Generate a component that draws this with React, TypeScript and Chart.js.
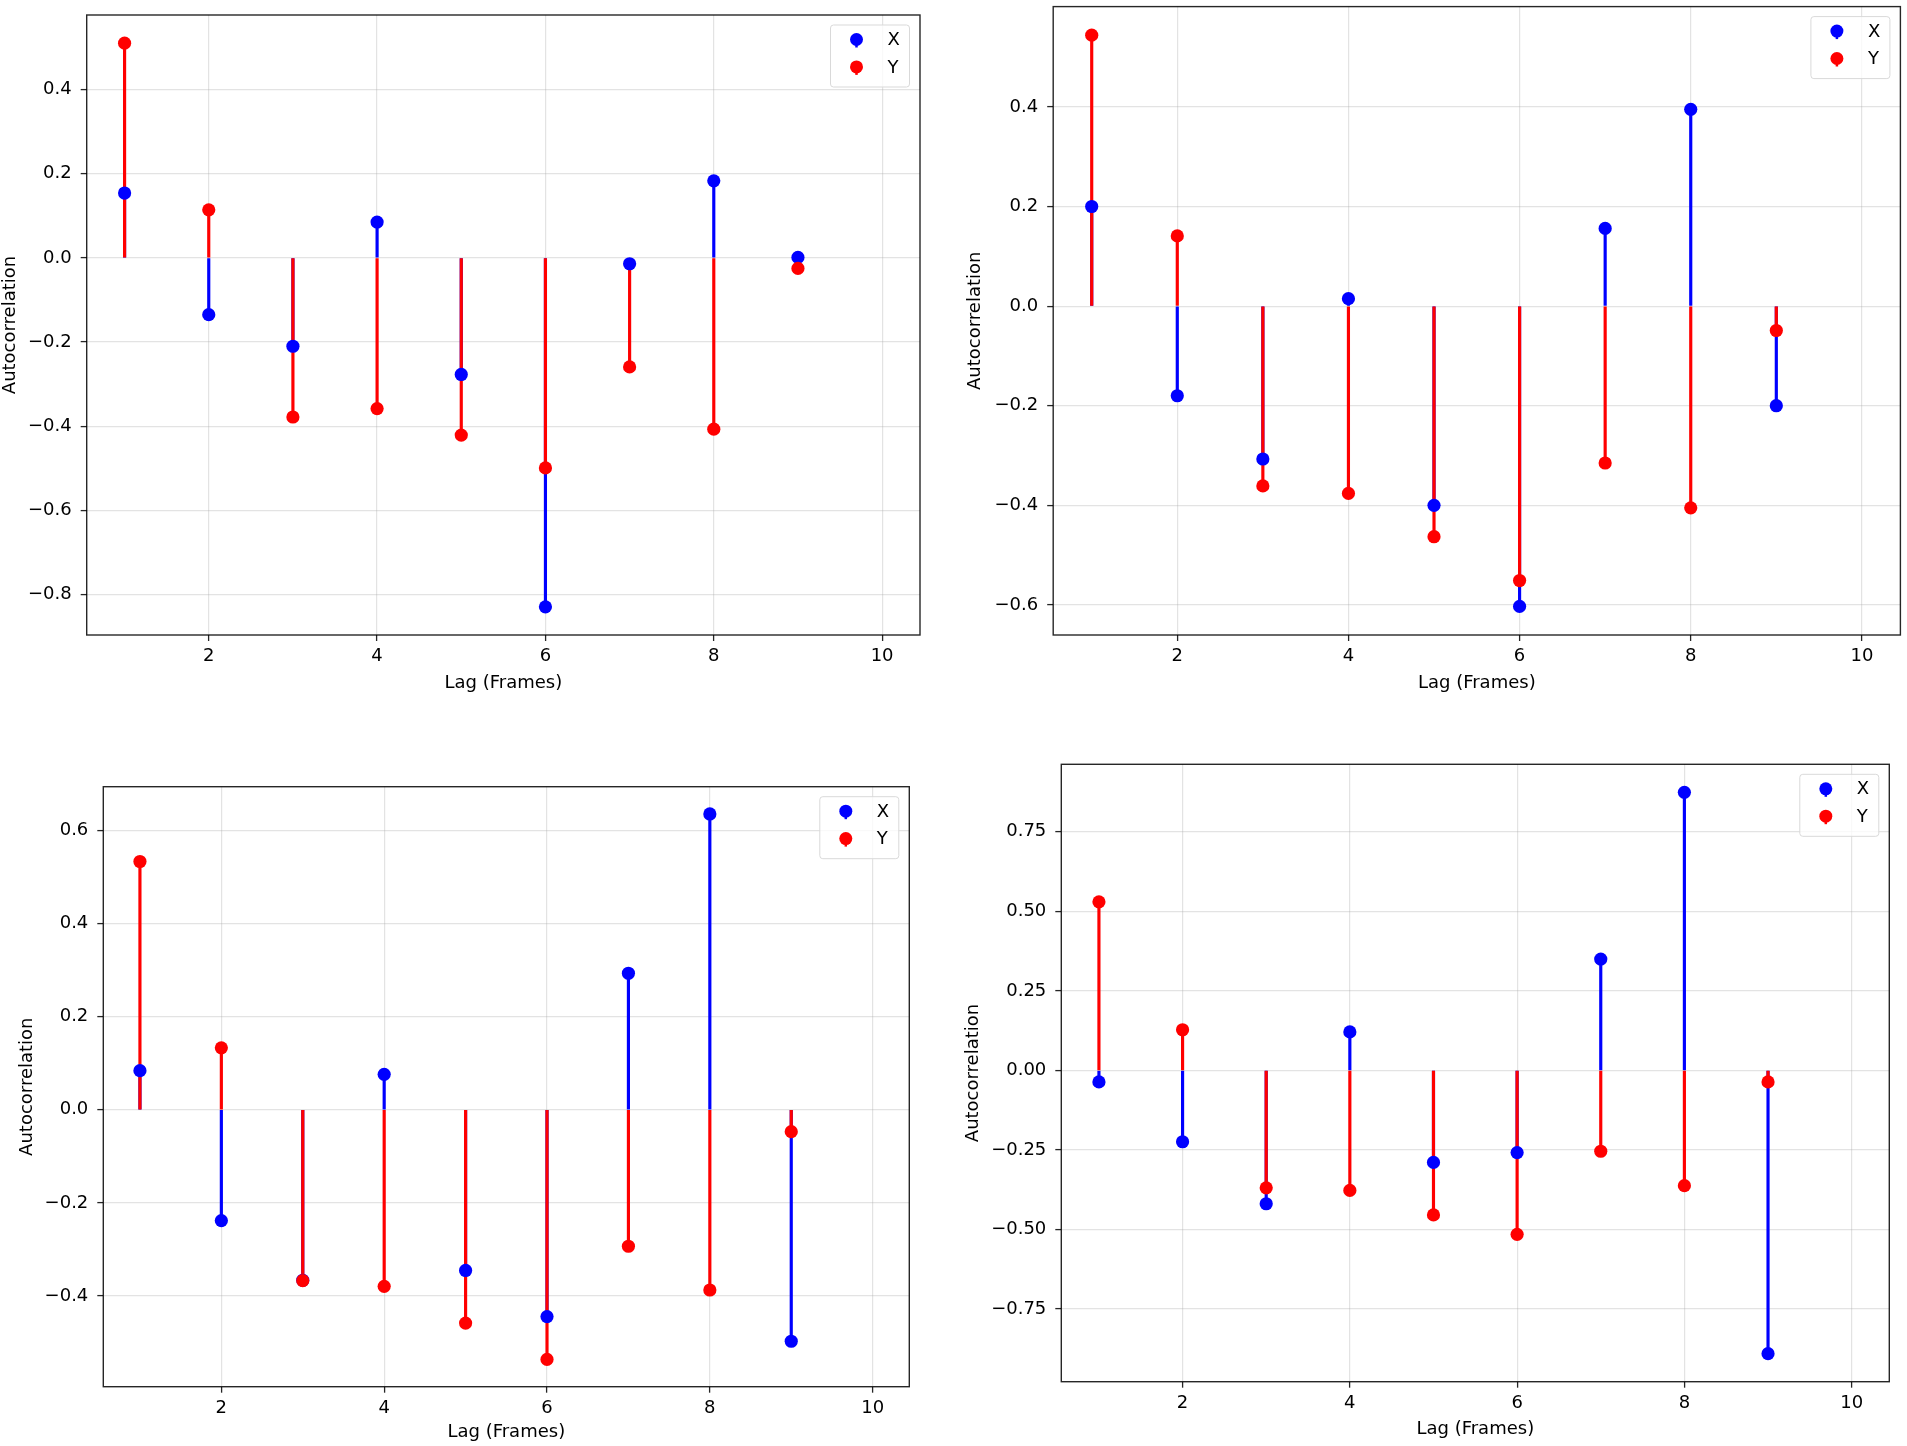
import React, { useEffect, useRef } from "react";
import { Chart, registerables } from "chart.js";

Chart.register(...registerables);

// ---------- data ----------
const LAGS = [1, 2, 3, 4, 5, 6, 7, 8, 9];
const X_TICKS = [2, 4, 6, 8, 10];
const X_MIN = 0.55;
const X_MAX = 10.45;
const SERIES_NAMES = ["X", "Y"];
const X_LABEL = "Lag (Frames)";
const Y_LABEL = "Autocorrelation";

const P1_X = [0.154, -0.135, -0.21, 0.085, -0.277, -0.829, -0.014, 0.183, 0.001];
const P1_Y = [0.51, 0.114, -0.378, -0.358, -0.421, -0.499, -0.259, -0.407, -0.025];
const P1_TICKS = [-0.8, -0.6, -0.4, -0.2, 0.0, 0.2, 0.4];

const P2_X = [0.2, -0.18, -0.307, 0.015, -0.4, -0.603, 0.156, 0.395, -0.2];
const P2_Y = [0.544, 0.141, -0.361, -0.376, -0.463, -0.551, -0.315, -0.405, -0.049];
const P2_TICKS = [-0.6, -0.4, -0.2, 0.0, 0.2, 0.4];

const P3_X = [0.084, -0.238, -0.366, 0.076, -0.345, -0.444, 0.293, 0.635, -0.497];
const P3_Y = [0.533, 0.133, -0.367, -0.379, -0.458, -0.536, -0.293, -0.387, -0.047];
const P3_TICKS = [-0.4, -0.2, 0.0, 0.2, 0.4, 0.6];

const P4_X = [-0.036, -0.224, -0.419, 0.121, -0.289, -0.258, 0.35, 0.874, -0.89];
const P4_Y = [0.53, 0.128, -0.369, -0.377, -0.454, -0.515, -0.254, -0.362, -0.036];
const P4_TICKS = [-0.75, -0.5, -0.25, 0.0, 0.25, 0.5, 0.75];

// ---------- style / layout ----------
const BLUE = "#0000ff";
const RED = "#ff0000";
const FONT_FAMILY = "'DejaVu Sans', Verdana, sans-serif";
const FONT_SIZE = 18;
const LINE_H = FONT_SIZE * 1.2;

type PanelCfg = {
  xs: number[];
  ys: number[];
  yTicks: number[];
  dec: number;
  canvas: [number, number, number, number];
  box: [number, number, number, number];
  xTitleY: number;
  yTitleX: number;
};

const PANELS: PanelCfg[] = [
  { xs: P1_X, ys: P1_Y, yTicks: P1_TICKS, dec: 1, canvas: [0, 0, 953, 723], box: [86.7, 15, 920, 635], xTitleY: 683, yTitleX: 10 },
  { xs: P2_X, ys: P2_Y, yTicks: P2_TICKS, dec: 1, canvas: [953, 0, 954, 723], box: [1053.2, 5, 1901, 635], xTitleY: 683, yTitleX: 975.5 },
  { xs: P3_X, ys: P3_Y, yTicks: P3_TICKS, dec: 1, canvas: [0, 723, 953, 723], box: [103.3, 786.7, 909.3, 1386.7], xTitleY: 1432, yTitleX: 27 },
  { xs: P4_X, ys: P4_Y, yTicks: P4_TICKS, dec: 2, canvas: [953, 723, 954, 723], box: [1061.3, 764.3, 1889.3, 1381.7], xTitleY: 1429, yTitleX: 973.3 },
];

const fmt = (v: number, dec: number) => {
  const s = (Math.abs(v) < 1e-9 ? 0 : v).toFixed(dec);
  return s.replace("-", "\u2212");
};

const framePlugin = {
  id: "frame",
  afterDatasetsDraw(chart: any) {
    const { ctx, chartArea: a } = chart;
    ctx.save();
    ctx.strokeStyle = "rgba(0,0,0,0.85)";
    ctx.lineWidth = 1.4;
    ctx.strokeRect(a.left, a.top, a.right - a.left, a.bottom - a.top);
    ctx.restore();
  },
};

const legendPlugin = {
  id: "mplLegend",
  afterDraw(chart: any) {
    const { ctx, chartArea: a } = chart;
    const w = 79;
    const h = 62;
    const x0 = a.right - 10.5 - w;
    const y0 = a.top + 10;
    ctx.save();
    ctx.beginPath();
    const r = 3;
    ctx.moveTo(x0 + r, y0);
    ctx.lineTo(x0 + w - r, y0);
    ctx.quadraticCurveTo(x0 + w, y0, x0 + w, y0 + r);
    ctx.lineTo(x0 + w, y0 + h - r);
    ctx.quadraticCurveTo(x0 + w, y0 + h, x0 + w - r, y0 + h);
    ctx.lineTo(x0 + r, y0 + h);
    ctx.quadraticCurveTo(x0, y0 + h, x0, y0 + h - r);
    ctx.lineTo(x0, y0 + r);
    ctx.quadraticCurveTo(x0, y0, x0 + r, y0);
    ctx.closePath();
    ctx.fillStyle = "rgba(255,255,255,0.8)";
    ctx.fill();
    ctx.strokeStyle = "#d9d9d9";
    ctx.lineWidth = 1;
    ctx.stroke();
    const colors = [BLUE, RED];
    SERIES_NAMES.forEach((name, i) => {
      const cy = y0 + 14.5 + i * 27.4;
      const mx = x0 + 26;
      ctx.strokeStyle = colors[i];
      ctx.lineWidth = 2.5;
      ctx.beginPath();
      ctx.moveTo(mx, cy);
      ctx.lineTo(mx, cy + 8);
      ctx.stroke();
      ctx.fillStyle = colors[i];
      ctx.beginPath();
      ctx.arc(mx, cy, 6.5, 0, Math.PI * 2);
      ctx.fill();
      ctx.fillStyle = "#000";
      ctx.font = `${FONT_SIZE}px ${FONT_FAMILY}`;
      ctx.textAlign = "left";
      ctx.textBaseline = "middle";
      ctx.fillText(name, x0 + 57, cy + 1);
    });
    ctx.restore();
  },
};

function Panel({ cfg }: { cfg: PanelCfg }) {
  const ref = useRef<HTMLCanvasElement>(null);
  const [cx, cy, cw, ch] = cfg.canvas;

  useEffect(() => {
    if (!ref.current) return;
    const [L, T, R, B] = cfg.box;
    const yW = L - cx;
    const xH = cy + ch - B;
    const all = [...cfg.xs, ...cfg.ys, 0];
    const lo = Math.min(...all);
    const hi = Math.max(...all);
    const m = (hi - lo) * 0.05;
    const font = { family: FONT_FAMILY, size: FONT_SIZE, lineHeight: 1.2 };
    const stems = (vals: number[]) => LAGS.map((l, i) => ({ x: l, y: [0, vals[i]] }));
    const pts = (vals: number[]) => LAGS.map((l, i) => ({ x: l, y: vals[i] }));
    const grid = {
      color: "rgba(176,176,176,0.35)",
      lineWidth: 1.2,
      tickColor: "rgba(0,0,0,0.85)",
      tickLength: 6,
      tickWidth: 1.3,
      offset: false,
    };

    const chart = new Chart(ref.current, {
      type: "scatter",
      data: {
        datasets: [
          { type: "bar", label: "X stems", data: stems(cfg.xs) as any, backgroundColor: BLUE, borderWidth: 0, barThickness: 2.5, grouped: false, order: 4 } as any,
          { type: "bar", label: "Y stems", data: stems(cfg.ys) as any, backgroundColor: RED, borderWidth: 0, barThickness: 2.5, grouped: false, order: 3 } as any,
          { type: "scatter", label: SERIES_NAMES[0], data: pts(cfg.xs), pointRadius: 6.6, pointBackgroundColor: BLUE, pointBorderWidth: 0, pointBorderColor: BLUE, order: 2 } as any,
          { type: "scatter", label: SERIES_NAMES[1], data: pts(cfg.ys), pointRadius: 6.6, pointBackgroundColor: RED, pointBorderWidth: 0, pointBorderColor: RED, order: 1 } as any,
        ],
      },
      options: {
        animation: false,
        responsive: false,
        events: [],
        layout: { padding: { left: 0, top: T - cy, right: cx + cw - R, bottom: 0 } },
        plugins: { legend: { display: false }, tooltip: { enabled: false } },
        scales: {
          x: {
            type: "linear",
            min: X_MIN,
            max: X_MAX,
            offset: false,
            grid,
            border: { display: false },
            afterBuildTicks: (s: any) => {
              s.ticks = X_TICKS.map((v) => ({ value: v }));
            },
            afterFit: (s: any) => {
              s.height = xH;
              s.paddingLeft = 0;
              s.paddingRight = 0;
              s.paddingTop = 0;
              s.paddingBottom = 0;
            },
            ticks: {
              font,
              color: "#000",
              padding: 5,
              maxRotation: 0,
              autoSkip: false,
              callback: (v: any) => String(v),
            },
            title: {
              display: true,
              text: X_LABEL,
              font,
              color: "#000",
              padding: { top: 0, bottom: Math.max(0, cy + ch - cfg.xTitleY - LINE_H / 2) },
            },
          } as any,
          y: {
            type: "linear",
            min: lo - m,
            max: hi + m,
            grid,
            border: { display: false },
            afterBuildTicks: (s: any) => {
              s.ticks = cfg.yTicks.map((v) => ({ value: v }));
            },
            afterFit: (s: any) => {
              s.width = yW;
              s.paddingLeft = 0;
              s.paddingRight = 0;
              s.paddingTop = 0;
              s.paddingBottom = 0;
            },
            ticks: {
              font,
              color: "#000",
              padding: 9,
              autoSkip: false,
              callback: (v: any) => fmt(Number(v), cfg.dec),
            },
            title: {
              display: true,
              text: Y_LABEL,
              font,
              color: "#000",
              padding: { top: Math.max(0, cfg.yTitleX - cx - LINE_H / 2), bottom: 0 },
            },
          } as any,
        },
      },
      plugins: [framePlugin, legendPlugin],
    });
    return () => chart.destroy();
  }, []);

  return (
    <canvas
      ref={ref}
      width={cw}
      height={ch}
      style={{ position: "absolute", left: cx, top: cy, width: cw, height: ch, display: "block" }}
    />
  );
}

export default function App() {
  return (
    <div style={{ position: "absolute", left: 0, top: 0, width: 1907, height: 1446, background: "#fff", overflow: "hidden" }}>
      {PANELS.map((p, i) => (
        <Panel key={i} cfg={p} />
      ))}
    </div>
  );
}
